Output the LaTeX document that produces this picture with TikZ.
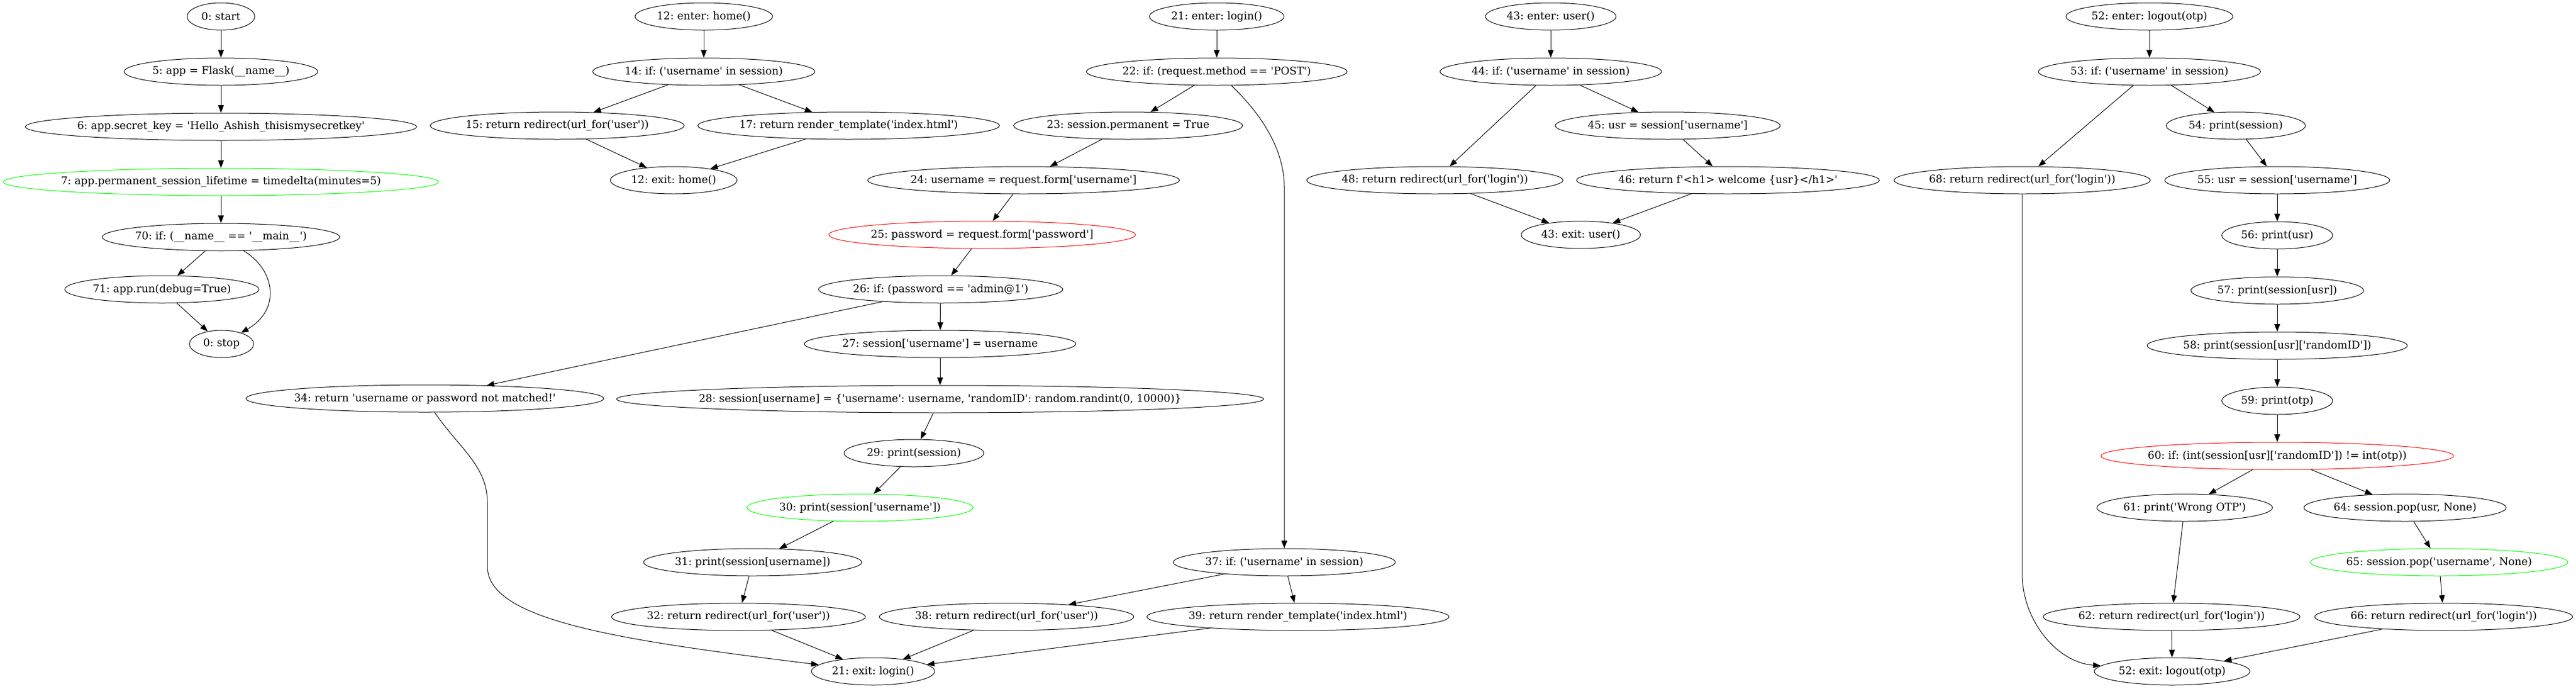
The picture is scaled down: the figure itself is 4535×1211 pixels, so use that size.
\documentclass[tikz,border=0pt]{standalone}
\usepackage{fontspec}
\newfontfamily\gvfont{DejaVu Serif}
\usetikzlibrary{arrows.meta,positioning,shapes.geometric}
\tikzset{
    stmt/.style={ellipse, draw, line width=0.75pt, minimum height=36pt, inner xsep=-60pt, inner ysep=0pt, font=\gvfont\fontsize{14}{17}\selectfont\frenchspacing},
    wide/.style={minimum width=#1*0.75pt},
    hit/.style={stmt, draw=green},
    miss/.style={stmt, draw=red},
    post/.style={-{Triangle[length=10pt,width=7.5pt]}, line width=0.75pt},
  }

\begin{document}
\begin{tikzpicture}[x=0.75pt, y=-0.75pt, node distance=36pt]
  \useasboundingbox (0,0) rectangle (4535,1211);

  \node (start) [stmt, wide=119] at (389,29) {0: start};
  \node (n5) [stmt, wide=341, below=of start] {5: app = Flask(\_\_name\_\_)};
  \node (n6) [stmt, wide=689, below=of n5] {6: app.secret\_key = 'Hello\_Ashish\_thisismysecretkey'};
  \node (n7) [hit, wide=766, below=of n6] {7: app.permanent\_session\_lifetime = timedelta(minutes=5)};
  \node (n70) [stmt, wide=418, below=of n7] {70: if: (\_\_name\_\_ == '\_\_main\_\_')};
  \node (n71) [stmt, wide=342] at (285,509) {71: app.run(debug=True)};
  \node (stop) [stmt, wide=113] at (390,605) {0: stop};

  \node (n12) [stmt, wide=242] at (1239,29) {12: enter: home()};
  \node (n14) [stmt, wide=391, below=of n12] {14: if: ('username' in session)};
  \node (n15) [stmt, wide=447] at (981,221) {15: return redirect(url\_for('user'))};
  \node (n17) [stmt, wide=531] at (1494,221) {17: return render\_template('index.html')};
  \node (n12x) [stmt, wide=223] at (1186,317) {12: exit: home()};

  \node (n21) [stmt, wide=237] at (2142,29) {21: enter: login()};
  \node (n22) [stmt, wide=459, below=of n21] {22: if: (request.method == 'POST')};
  \node (n23) [stmt, wide=403] at (1986,221) {23: session.permanent = True};
  \node (n24) [stmt, wide=549] at (1802,317) {24: username = request.form['username']};
  \node (n25) [miss, wide=540] at (1729,413) {25: password = request.form['password']};
  \node (n26) [stmt, wide=430] at (1656,509) {26: if: (password == 'admin@1')};
  \node (n27) [stmt, wide=478] at (1655,605) {27: session['username'] = username};
  \node (n28) [stmt, wide=1139, below=of n27] {28: session[username] = \{'username': username, 'randomID': random.randint(0, 10000)\}};
  \node (n34) [stmt, wide=630] at (748,701) {34: return 'username or password not matched!'};
  \node (n29) [stmt, wide=246] at (1609,797) {29: print(session)};
  \node (n30) [hit, wide=398] at (1514,893) {30: print(session['username'])};
  \node (n31) [stmt, wide=384] at (1325,989) {31: print(session[username])};
  \node (n37) [stmt, wide=391] at (2261,989) {37: if: ('username' in session)};
  \node (n32) [stmt, wide=447] at (1300,1085) {32: return redirect(url\_for('user'))};
  \node (n38) [stmt, wide=448] at (1772,1085) {38: return redirect(url\_for('user'))};
  \node (n39) [stmt, wide=532] at (2285,1085) {39: return render\_template('index.html')};
  \node (n21x) [stmt, wide=217] at (1537,1181) {21: exit: login()};

  \node (n43) [stmt, wide=230] at (2730,29) {43: enter: user()};
  \node (n44) [stmt, wide=390, below=of n43] {44: if: ('username' in session)};
  \node (n45) [stmt, wide=396] at (2936,221) {45: usr = session['username']};
  \node (n48) [stmt, wide=451] at (2526,317) {48: return redirect(url\_for('login'))};
  \node (n46) [stmt, wide=533] at (3042,317) {46: return f'<h1> welcome \{usr\}</h1>'};
  \node (n43x) [stmt, wide=210] at (2783,413) {43: exit: user()};

  \node (n52) [stmt, wide=294] at (3784,29) {52: enter: logout(otp)};
  \node (n53) [stmt, wide=391, below=of n52] {53: if: ('username' in session)};
  \node (n54) [stmt, wide=245] at (3936,221) {54: print(session)};
  \node (n68) [stmt, wide=451] at (3560,317) {68: return redirect(url\_for('login'))};
  \node (n55) [stmt, wide=396] at (4009,317) {55: usr = session['username']};
  \node (n56) [stmt, wide=195, below=of n55] {56: print(usr)};
  \node (n57) [stmt, wide=304, below=of n56] {57: print(session[usr])};
  \node (n58) [stmt, wide=458, below=of n57] {58: print(session[usr]['randomID'])};
  \node (n59) [stmt, wide=195, below=of n58] {59: print(otp)};
  \node (n60) [miss, wide=621, below=of n59] {60: if: (int(session[usr]['randomID']) != int(otp))};
  \node (n61) [stmt, wide=309] at (3846,893) {61: print('Wrong OTP')};
  \node (n64) [stmt, wide=356] at (4234,893) {64: session.pop(usr, None)};
  \node (n65) [hit, wide=453] at (4294,989) {65: session.pop('username', None)};
  \node (n62) [stmt, wide=452] at (3823,1085) {62: return redirect(url\_for('login'))};
  \node (n66) [stmt, wide=454] at (4302,1085) {66: return redirect(url\_for('login'))};
  \node (n52x) [stmt, wide=274] at (3824,1181) {52: exit: logout(otp)};

  \draw (start) edge [post] (n5)
        (n5) edge [post] (n6)
        (n6) edge [post] (n7)
        (n7) edge [post] (n70)
        (n70) edge [post] (n71)
        (n71) edge [post] (stop);
  \draw [post] (n70) .. controls (485,475) and (495,545) .. (stop);

  \draw (n12) edge [post] (n14)
        (n14) edge [post] (n15)
        (n14) edge [post] (n17)
        (n15) edge [post] (n12x)
        (n17) edge [post] (n12x);

  \draw (n21) edge [post] (n22)
        (n22) edge [post] (n23)
        (n23) edge [post] (n24)
        (n24) edge [post] (n25)
        (n25) edge [post] (n26)
        (n26) edge [post] (n34)
        (n26) edge [post] (n27)
        (n27) edge [post] (n28)
        (n28) edge [post] (n29)
        (n29) edge [post] (n30)
        (n30) edge [post] (n31)
        (n31) edge [post] (n32)
        (n32) edge [post] (n21x)
        (n37) edge [post] (n38)
        (n37) edge [post] (n39)
        (n38) edge [post] (n21x)
        (n39) edge [post] (n21x);
  \draw [post] (n22) .. controls (2204,185) and (2261,250) .. (2261,330) -- (n37);
  \draw [post] (n34) .. controls (810,790) and (858,820) .. (858,884) -- (858,996)
        .. controls (858,1090) and (1080,1125) .. (n21x);

  \draw (n43) edge [post] (n44)
        (n44) edge [post] (n48)
        (n44) edge [post] (n45)
        (n45) edge [post] (n46)
        (n48) edge [post] (n43x)
        (n46) edge [post] (n43x);

  \draw (n52) edge [post] (n53)
        (n53) edge [post] (n68)
        (n53) edge [post] (n54)
        (n54) edge [post] (n55)
        (n55) edge [post] (n56)
        (n56) edge [post] (n57)
        (n57) edge [post] (n58)
        (n58) edge [post] (n59)
        (n59) edge [post] (n60)
        (n60) edge [post] (n61)
        (n60) edge [post] (n64)
        (n61) edge [post] (n62)
        (n64) edge [post] (n65)
        (n65) edge [post] (n66)
        (n62) edge [post] (n52x)
        (n66) edge [post] (n52x);
  \draw [post] (n68) -- (3560,1010) .. controls (3560,1090) and (3620,1165) .. (n52x);
\end{tikzpicture}
\end{document}
